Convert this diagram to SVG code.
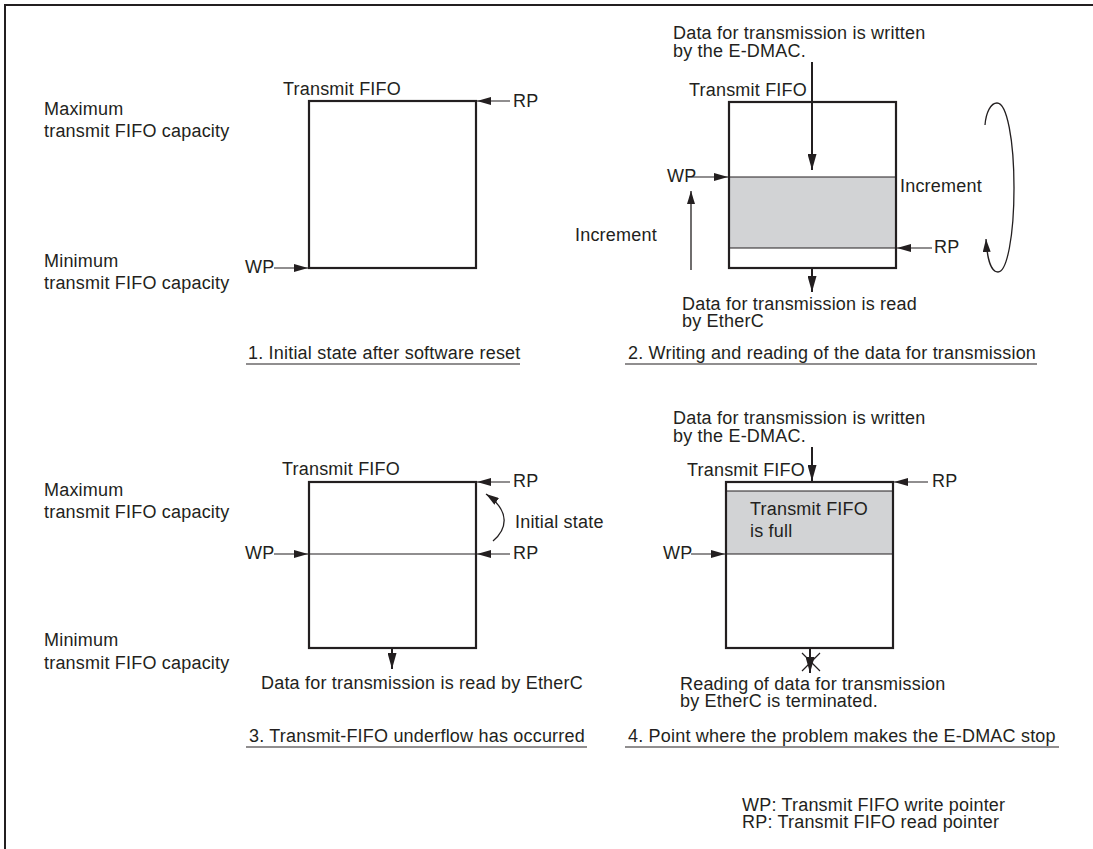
<svg xmlns="http://www.w3.org/2000/svg" width="1093" height="849" viewBox="0 0 1093 849">
<style>
text{font-family:"Liberation Sans",Arial,Helvetica,sans-serif;font-size:18px;letter-spacing:0.2px;fill:#231f20}
.box{fill:none;stroke:#231f20;stroke-width:2.2}
.thin{fill:none;stroke:#231f20;stroke-width:1.2}
.shade{fill:#d2d3d5;stroke:none}
.ptr{fill:none;stroke:#231f20;stroke-width:1.2;marker-end:url(#hp)}
.flow{fill:none;stroke:#231f20;stroke-width:2;marker-end:url(#hf)}
.inc{fill:none;stroke:#231f20;stroke-width:1.3;marker-end:url(#hs)}
</style>
<defs>
<marker id="hp" markerUnits="userSpaceOnUse" markerWidth="14" markerHeight="8" viewBox="0 0 14 8" refX="14" refY="4" orient="auto"><path d="M0,0 L14,4 L0,8 z" fill="#231f20"/></marker>
<marker id="hf" markerUnits="userSpaceOnUse" markerWidth="16" markerHeight="9" viewBox="0 0 16 9" refX="16" refY="4.5" orient="auto"><path d="M0,0 L16,4.5 L0,9 z" fill="#231f20"/></marker>
<marker id="hs" markerUnits="userSpaceOnUse" markerWidth="13" markerHeight="8" viewBox="0 0 13 8" refX="13" refY="4" orient="auto"><path d="M0,0 L13,4 L0,8 z" fill="#231f20"/></marker>
</defs>
<rect width="1093" height="849" fill="#ffffff"/>
<path d="M5,849 V5 H1093" fill="none" stroke="#231f20" stroke-width="2"/>

<g id="panel1">
<rect class="box" x="309" y="101" width="167" height="167"/>
<text x="283" y="95">Transmit FIFO</text>
<text x="44" y="115">Maximum</text>
<text x="44" y="137">transmit FIFO capacity</text>
<text x="44" y="267">Minimum</text>
<text x="44" y="289">transmit FIFO capacity</text>
<text x="513" y="107">RP</text>
<text x="245" y="273">WP</text>
<text x="248" y="359">1. Initial state after software reset</text>
<line class="thin" x1="246" y1="364" x2="520" y2="364"/>
</g>

<g id="panel2">
<rect class="shade" x="729" y="177" width="167" height="71"/>
<rect class="box" x="729" y="102" width="167" height="166"/>
<line class="thin" x1="729" y1="177" x2="896" y2="177"/>
<line class="thin" x1="729" y1="248" x2="896" y2="248"/>
<text x="673" y="39">Data for transmission is written</text>
<text x="673" y="57">by the E-DMAC.</text>
<text x="689" y="96">Transmit FIFO</text>
<text x="667" y="182">WP</text>
<text x="575" y="241">Increment</text>
<text x="900" y="192">Increment</text>
<text x="934" y="253">RP</text>
<text x="682" y="310">Data for transmission is read</text>
<text x="682" y="327">by EtherC</text>
<text x="628" y="359">2. Writing and reading of the data for transmission</text>
<line class="thin" x1="625" y1="364" x2="1037" y2="364"/>
</g>

<g id="panel3">
<rect class="box" x="309" y="482" width="167" height="166"/>
<line class="thin" x1="309" y1="554" x2="476" y2="554"/>
<text x="282" y="475">Transmit FIFO</text>
<text x="44" y="496">Maximum</text>
<text x="44" y="518">transmit FIFO capacity</text>
<text x="44" y="646">Minimum</text>
<text x="44" y="669">transmit FIFO capacity</text>
<text x="513" y="487">RP</text>
<text x="513" y="559">RP</text>
<text x="245" y="559">WP</text>
<text x="515" y="528">Initial state</text>
<text x="261" y="689">Data for transmission is read by EtherC</text>
<text x="249" y="742">3. Transmit-FIFO underflow has occurred</text>
<line class="thin" x1="246" y1="747" x2="587" y2="747"/>
</g>

<g id="panel4">
<rect class="shade" x="726" y="491" width="167" height="63"/>
<rect class="box" x="726" y="482" width="167" height="166"/>
<line class="thin" x1="726" y1="491" x2="893" y2="491"/>
<line class="thin" x1="726" y1="554" x2="893" y2="554"/>
<text x="750" y="515">Transmit FIFO</text>
<text x="750" y="537">is full</text>
<text x="673" y="424">Data for transmission is written</text>
<text x="673" y="442">by the E-DMAC.</text>
<text x="687" y="476">Transmit FIFO</text>
<text x="932" y="487">RP</text>
<text x="663" y="559">WP</text>
<text x="680" y="690">Reading of data for transmission</text>
<text x="680" y="707">by EtherC is terminated.</text>
<text x="628" y="742">4. Point where the problem makes the E-DMAC stop</text>
<line class="thin" x1="625" y1="747" x2="1059" y2="747"/>
</g>

<g id="legend">
<text x="742" y="811">WP: Transmit FIFO write pointer</text>
<text x="742" y="828">RP: Transmit FIFO read pointer</text>
</g>

<g id="connectors">
<line class="ptr" x1="510" y1="101" x2="477" y2="101"/>
<line class="ptr" x1="274" y1="268" x2="308" y2="268"/>
<line class="flow" x1="812" y1="62" x2="812" y2="170"/>
<line class="ptr" x1="688" y1="177" x2="728" y2="177"/>
<line class="inc" x1="691" y1="270" x2="691" y2="191"/>
<line class="ptr" x1="932" y1="248" x2="897" y2="248"/>
<line class="flow" x1="812" y1="269" x2="812" y2="292"/>
<path class="inc" d="M985,125 C986,112 991,103 997,103 C1007,103 1014,140 1014,188 C1014,236 1007,272 998,272 C991,272 987,258 986,239"/>
<line class="ptr" x1="510" y1="482" x2="477" y2="482"/>
<line class="ptr" x1="510" y1="554" x2="477" y2="554"/>
<line class="ptr" x1="274" y1="554" x2="308" y2="554"/>
<path class="inc" d="M493,541 C506,530 512,512 486,494"/>
<line class="flow" x1="392" y1="649" x2="392" y2="669"/>
<line class="flow" x1="812" y1="447" x2="812" y2="481"/>
<line class="ptr" x1="928" y1="482" x2="894" y2="482"/>
<line class="ptr" x1="691" y1="554" x2="725" y2="554"/>
<line class="flow" x1="810" y1="649" x2="810" y2="673"/>
<path class="thin" d="M802,653 L820,671 M820,653 L802,671"/>
</g>
</svg>
